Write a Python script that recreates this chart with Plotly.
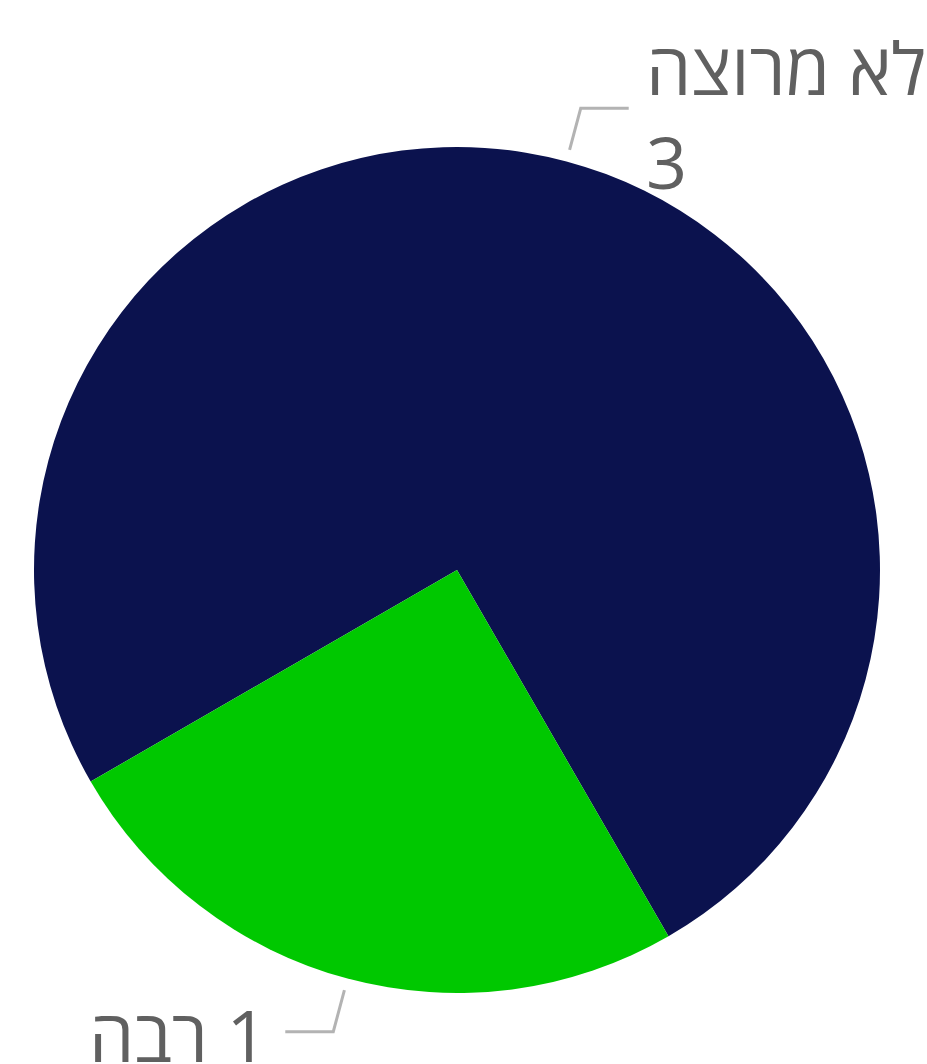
import math
import plotly.graph_objects as go

# data
labels = ["לא מרוצה", "רבה"]
values = [3, 1]
colors = ["#0b124e", "#00c800"]

W, H = 927, 1064
cx, cy, r = 457, 570, 423
rotation = 240  # start of first slice, degrees clockwise from 12 o'clock

fig = go.Figure(
    go.Pie(
        labels=labels,
        values=values,
        marker=dict(colors=colors, line=dict(width=0)),
        sort=False,
        direction="clockwise",
        rotation=rotation,
        textinfo="none",
        hoverinfo="label+value",
        showlegend=False,
        domain=dict(
            x=[(cx - r) / W, (cx + r) / W],
            y=[1 - (cy + r) / H, 1 - (cy - r) / H],
        ),
    )
)


def px(x, y):
    return x / W, 1 - y / H


# connectors + labels, placed from each slice's mid angle
shapes = []
annotations = []
total = sum(values)
start = rotation
for name, v in zip(labels, values):
    span = 360 * v / total
    mid = math.radians(start + span / 2)
    start += span
    sx, sy = math.sin(mid), -math.cos(mid)
    p0 = (cx + (r + 12) * sx, cy + (r + 12) * sy)
    p1 = (cx + (r + 55) * sx, cy + (r + 55) * sy)
    side = 1 if sx >= 0 else -1
    p2 = (p1[0] + 48 * side, p1[1])
    pts = [px(*p) for p in (p0, p1, p2)]
    path = "M {} {} L {} {} L {} {}".format(
        pts[0][0], pts[0][1], pts[1][0], pts[1][1], pts[2][0], pts[2][1]
    )
    shapes.append(
        dict(type="path", path=path, xref="paper", yref="paper",
             line=dict(color="#b3b3b3", width=3))
    )
    if side > 0:
        text = f"{name}<br>{v}"
        ty = p1[1] + 6
        tx = p2[0] + 15
    else:
        text = f"{name}\u200e {v}"
        ty = p1[1] + 2
        tx = p2[0] - 15
    ax, ay = px(tx, ty)
    annotations.append(
        dict(x=ax, y=ay, xref="paper", yref="paper", text=text,
             showarrow=False, xanchor="left" if side > 0 else "right",
             yanchor="middle", align="left" if side > 0 else "right",
             font=dict(family="Open Sans", size=72, color="#606060"))
    )

fig.update_layout(
    width=W,
    height=H,
    margin=dict(l=0, r=0, t=0, b=0),
    paper_bgcolor="white",
    plot_bgcolor="white",
    shapes=shapes,
    annotations=annotations,
)

fig.write_html(
    "out.html",
    config={"displayModeBar": False},
    post_script="document.body.style.margin='0';document.body.style.overflow='hidden';",
)
